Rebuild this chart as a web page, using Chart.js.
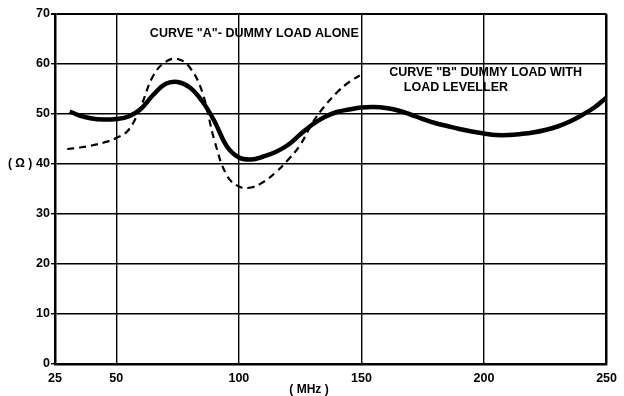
<!DOCTYPE html>
<html>
<head>
<meta charset="utf-8">
<script src="https://cdn.jsdelivr.net/npm/chart.js@4.4.0/dist/chart.umd.min.js"></script>
<style>
  html, body { margin: 0; padding: 0; background: #fff; }
  #wrap { width: 624px; height: 396px; }
</style>
</head>
<body>
<div id="wrap"><canvas id="myChart" width="624" height="396"></canvas></div>
<script>
// curve "A": dummy load alone (dashed)
const freqA = [30, 35, 40, 45, 50, 55, 60, 65, 70, 75, 80, 85, 90, 95, 100, 105, 110, 115, 120, 125, 130, 135, 140, 145, 151];
const ohmA  = [43, 43.3, 43.7, 44.3, 45.2, 46.8, 51.5, 57.6, 60.4, 61, 59.3, 54.5, 44.8, 37.8, 35.5, 35.3, 36.4, 38.3, 40.8, 43.8, 48.2, 51.6, 54.3, 56.4, 58.2];

// curve "B": dummy load with load leveller (solid)
const freqB = [31, 35, 40, 45, 50, 55, 60, 65, 70, 75, 80, 85, 90, 95, 100, 105, 110, 115, 120, 125, 130, 135, 140, 145, 150,
               155, 160, 165, 170, 175, 180, 185, 190, 195, 200, 205, 210, 215, 220, 225, 230, 235, 240, 245, 250];
const ohmB  = [50.5, 49.7, 49.1, 48.9, 49, 49.5, 51, 53.8, 56, 56.4, 55.3, 52.6, 48.6, 43.6, 41.3, 40.9, 41.5, 42.4, 43.8, 45.9, 47.9, 49.4, 50.4, 50.9, 51.3,
               51.4, 51.2, 50.7, 49.9, 49, 48.2, 47.6, 47, 46.5, 46.1, 45.8, 45.8, 46, 46.3, 46.8, 47.5, 48.5, 49.8, 51.3, 53.3];

const xTicks = [25, 50, 100, 150, 200, 250];
const yTicks = [0, 10, 20, 30, 40, 50, 60, 70];

// text written on the grid: [text, x (MHz), y (ohm)]
const notes = [
  ['CURVE "A"- DUMMY LOAD ALONE', 63.7, 66.1],
  ['CURVE "B" DUMMY LOAD WITH', 161.3, 58.3],
  ['LOAD LEVELLER', 167.3, 55.3]
];

function pts(xs, ys) {
  return xs.map((x, i) => ({ x: x, y: ys[i] }));
}

const FONT = 'Liberation Sans, Arial, sans-serif';

const extraText = {
  id: 'extraText',
  afterDraw(chart) {
    const ctx = chart.ctx;
    const xs = chart.scales.x, ys = chart.scales.y;
    ctx.save();
    ctx.fillStyle = '#000';
    ctx.font = 'bold 12.5px ' + FONT;
    ctx.textBaseline = 'middle';
    ctx.textAlign = 'left';
    notes.forEach(n => {
      ctx.fillText(n[0], xs.getPixelForValue(n[1]), ys.getPixelForValue(n[2]));
    });
    // axis units
    ctx.font = 'bold 12px ' + FONT;
    ctx.fillText('( Ω )', 8, ys.getPixelForValue(40));
    ctx.textAlign = 'center';
    ctx.fillText('( MHz )', 309, 390);
    ctx.restore();
  }
};

const ctx = document.getElementById('myChart').getContext('2d');
const myChart = new Chart(ctx, {
  type: 'line',
  data: {
    datasets: [
      {
        label: 'A',
        data: pts(freqA, ohmA),
        borderColor: '#000',
        borderWidth: 2.2,
        borderDash: [7, 5],
        pointRadius: 0,
        tension: 0.4,
        fill: false
      },
      {
        label: 'B',
        data: pts(freqB, ohmB),
        borderColor: '#000',
        borderWidth: 4.5,
        pointRadius: 0,
        tension: 0.4,
        fill: false
      }
    ]
  },
  options: {
    responsive: false,
    animation: false,
    layout: { padding: { top: 14, right: 11, left: 0, bottom: 0 } },
    plugins: {
      legend: { display: false },
      tooltip: { enabled: false }
    },
    scales: {
      x: {
        type: 'linear',
        min: 25,
        max: 250,
        afterBuildTicks: function(scale) {
          scale.ticks = xTicks.map(v => ({ value: v }));
        },
        afterFit: function(scale) { scale.height = 32; },
        border: { display: true, color: '#000', width: 2.5 },
        grid: {
          color: '#000',
          lineWidth: c => (c.tick && c.tick.value === 250 ? 2.5 : 1.4),
          drawTicks: false
        },
        ticks: {
          color: '#000',
          padding: 7,
          maxRotation: 0,
          font: { family: FONT, weight: 'bold', size: 12.5 }
        }
      },
      y: {
        min: 0,
        max: 70,
        afterBuildTicks: function(scale) {
          scale.ticks = yTicks.map(v => ({ value: v }));
        },
        afterFit: function(scale) { scale.width = 55; },
        border: { display: true, color: '#000', width: 2.5 },
        grid: {
          color: '#000',
          lineWidth: c => (c.tick && c.tick.value === 70 ? 2 : 1.4),
          tickLength: 4
        },
        ticks: {
          color: '#000',
          padding: 1,
          font: { family: FONT, weight: 'bold', size: 12.5 }
        }
      }
    }
  },
  plugins: [extraText]
});
</script>
</body>
</html>
